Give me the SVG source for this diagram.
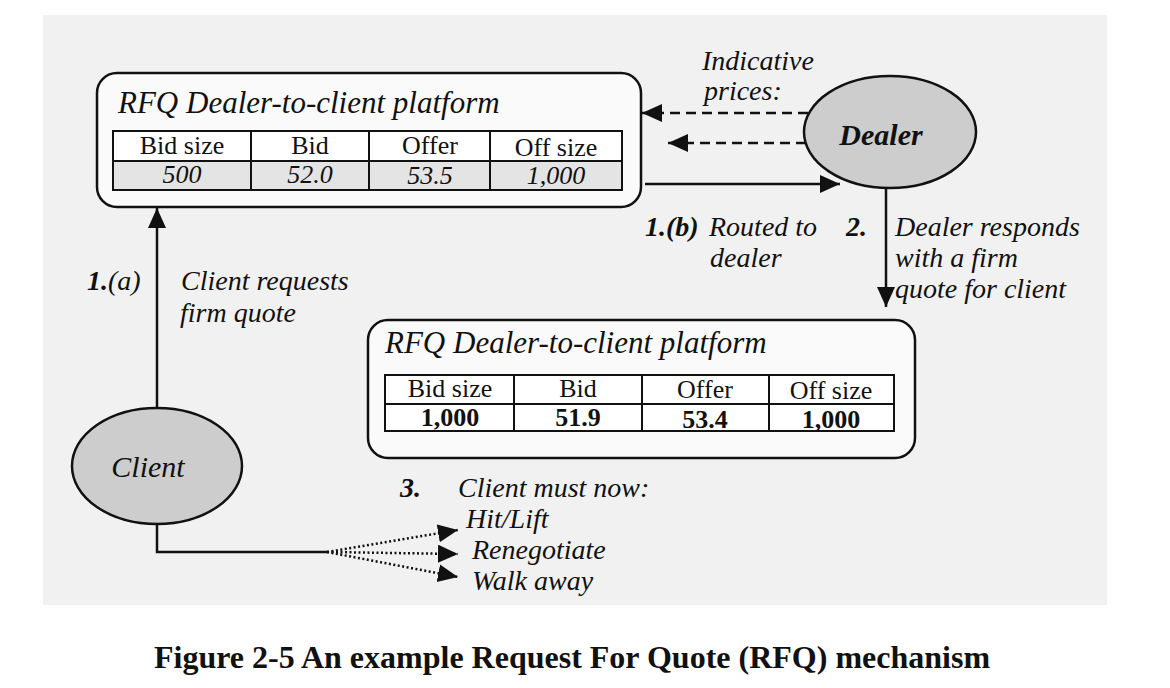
<svg xmlns="http://www.w3.org/2000/svg" width="1170" height="688" viewBox="0 0 1170 688">
<defs>
<style>
text{font-family:"Liberation Serif","Times New Roman",serif;fill:#111}
.it{font-style:italic}
.b{font-weight:bold}
.lbl{font-size:28px;font-style:italic}
.ttl{font-size:31px;font-style:italic}
.cell{font-size:26px;text-anchor:middle}
.box{fill:#fafafa;stroke:#111;stroke-width:2.5}
.tbl{fill:none;stroke:#111;stroke-width:2}
.ell{fill:#cdcdcd;stroke:#111;stroke-width:2.5}
.ln{fill:none;stroke:#111;stroke-width:2.5}
.dash{fill:none;stroke:#111;stroke-width:2.5;stroke-dasharray:10 6}
.dot{fill:none;stroke:#111;stroke-width:2.5;stroke-dasharray:2 2.5}
</style>
<marker id="ah" markerUnits="userSpaceOnUse" markerWidth="22" markerHeight="20" refX="20" refY="9" orient="auto">
<path d="M0,0 L20,9 L0,18 Z" fill="#111"/>
</marker>
</defs>
<rect width="1170" height="688" fill="#ffffff"/>
<rect x="43" y="15" width="1064" height="590" fill="#f1f1f1"/>

<g id="platform-top">
<rect class="box" x="97" y="73" width="544" height="134" rx="20"/>
<text class="ttl" x="118" y="113">RFQ Dealer-to-client platform</text>
<rect x="113" y="161" width="509" height="29" fill="#e4e4e4"/>
<rect x="113" y="131" width="509" height="30" fill="#ffffff"/>
<rect class="tbl" x="113" y="131" width="509" height="59"/>
<path class="tbl" d="M113,161 H622 M251,131 V190 M369,131 V190 M490,131 V190"/>
<text class="cell" x="182" y="154">Bid size</text>
<text class="cell" x="310" y="154">Bid</text>
<text class="cell" x="430" y="154">Offer</text>
<text class="cell" x="556" y="156">Off size</text>
<text class="cell it" x="182" y="183">500</text>
<text class="cell it" x="310" y="183">52.0</text>
<text class="cell it" x="430" y="184">53.5</text>
<text class="cell it" x="556" y="184">1,000</text>
</g>

<g id="platform-bottom">
<rect class="box" x="368" y="320" width="547" height="138" rx="20"/>
<text class="ttl" x="385" y="353">RFQ Dealer-to-client platform</text>
<rect x="385" y="375" width="509" height="56" fill="#ffffff"/>
<rect class="tbl" x="385" y="375" width="509" height="56"/>
<path class="tbl" d="M385,404 H894 M514,375 V431 M642,375 V431 M769,375 V431"/>
<text class="cell" x="450" y="397">Bid size</text>
<text class="cell" x="578" y="397">Bid</text>
<text class="cell" x="705" y="398">Offer</text>
<text class="cell" x="831" y="399">Off size</text>
<text class="cell b" x="450" y="426">1,000</text>
<text class="cell b" x="578" y="426">51.9</text>
<text class="cell b" x="705" y="428">53.4</text>
<text class="cell b" x="831" y="428">1,000</text>
</g>

<g id="dealer">
<ellipse class="ell" cx="890" cy="132" rx="86" ry="56"/>
<text class="b it" x="881" y="145" font-size="30" text-anchor="middle">Dealer</text>
</g>

<g id="client">
<ellipse class="ell" cx="157" cy="466" rx="85" ry="58"/>
<text class="it" x="148" y="477" font-size="30" text-anchor="middle">Client</text>
</g>

<g id="connectors">
<path class="dash" d="M808,113 H642" marker-end="url(#ah)"/>
<path class="dash" d="M806,143 H668" marker-end="url(#ah)"/>
<path class="ln" d="M645,184 H840" marker-end="url(#ah)"/>
<path class="ln" d="M886,188 V307" marker-end="url(#ah)"/>
<path class="ln" d="M157,408 V208" marker-end="url(#ah)"/>
<path class="ln" d="M157,524 V552 H327"/>
<path class="dot" d="M327,552 L458,530" marker-end="url(#ah)"/>
<path class="dot" d="M327,552 L458,554" marker-end="url(#ah)"/>
<path class="dot" d="M327,552 L458,577" marker-end="url(#ah)"/>
</g>

<g id="labels">
<text class="lbl" x="702" y="70">Indicative</text>
<text class="lbl" x="704" y="100">prices:</text>
<text class="lbl b" x="645" y="236">1.(b)</text>
<text class="lbl" x="709" y="236">Routed to</text>
<text class="lbl" x="710" y="267">dealer</text>
<text class="lbl b" x="846" y="236">2.</text>
<text class="lbl" x="895" y="236">Dealer responds</text>
<text class="lbl" x="895" y="267">with a firm</text>
<text class="lbl" x="895" y="298">quote for client</text>
<text class="lbl" x="87" y="290"><tspan font-weight="bold">1.</tspan>(a)</text>
<text class="lbl" x="181" y="290">Client requests</text>
<text class="lbl" x="180" y="322">firm quote</text>
<text class="lbl b" x="400" y="497">3.</text>
<text class="lbl" x="458" y="497">Client must now:</text>
<text class="lbl" x="466" y="528">Hit/Lift</text>
<text class="lbl" x="472" y="559">Renegotiate</text>
<text class="lbl" x="472" y="590">Walk away</text>
</g>

<text class="b" x="572" y="668" font-size="32" text-anchor="middle">Figure 2-5 An example Request For Quote (RFQ) mechanism</text>
</svg>
